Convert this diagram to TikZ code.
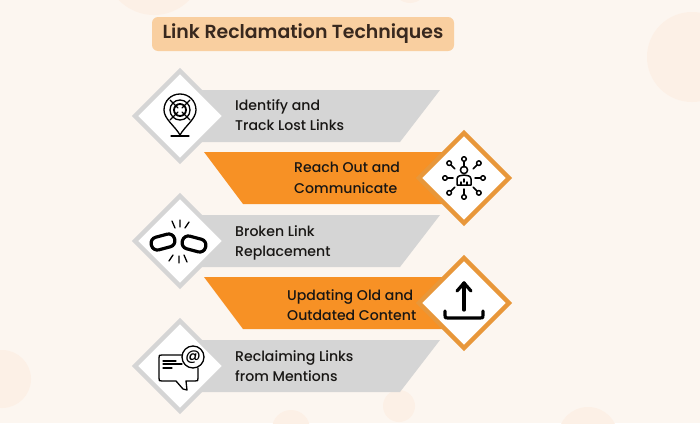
\documentclass[tikz,border=0pt]{standalone}
\usepackage{fontspec}
\setmainfont{Poppins Medium}
\newfontfamily\titlefont{Poppins SemiBold}
\usetikzlibrary{positioning,shapes.geometric}
\definecolor{colorback}   {RGB}{252,246,240}
\definecolor{colorblob}   {RGB}{252,240,230}
\definecolor{colorgrey}   {RGB}{213,213,213}
\definecolor{colorband}   {RGB}{247,145,37}
\definecolor{colorrim}    {RGB}{232,151,58}
\definecolor{colortitle}  {RGB}{249,207,160}
\definecolor{colortext}   {RGB}{24,22,20}
\definecolor{colorhead}   {RGB}{56,40,30}

\begin{document}
\begin{tikzpicture}[
    x=1pt, y=-1pt,
    blob/.style={fill=colorblob,draw=none},
    tile/.style={diamond,aspect=1,fill=white,minimum size=90pt,inner sep=0pt,outer sep=0pt,line width=4.3pt,miter limit=10},
    greytile/.style={tile,draw=colorgrey},
    orangetile/.style={tile,draw=colorrim},
    txt/.style={text=colortext,font={\fontsize{14.1}{20.5}\selectfont},align=left,anchor=west,inner sep=0pt},
    heading/.style={fill=colortitle,text=colorhead,rounded corners=6pt,font={\titlefont\fontsize{18.9}{22}\selectfont},minimum width=302pt,minimum height=34pt,inner sep=0pt},
    icon/.style={line width=1.3pt,draw=black,line cap=round,line join=round},
    iconthick/.style={line width=3.2pt,draw=black,line cap=round,line join=round},
]
    % Background
    \fill[colorback] (0,0) rectangle (700,423);
    \clip (0,0) rectangle (700,423);
    \fill[blob] (154,-34) circle (49);
    \fill[blob] (410,-14) circle (17);
    \fill[blob] (692,57) circle (45);
    \fill[blob] (2,379) circle (29);
    \fill[blob] (399,406) circle (16);
    \fill[blob] (291,429) circle (19);
    \fill[blob] (588,437) circle (30);

    % Title
    \node[heading] (title) at (303,34) {Link Reclamation Techniques};

    % Bands
    \fill[colorgrey] (180,90) -- (440,90) -- (400,142) -- (180,142) -- cycle;
    \fill[colorband] (204,152) -- (464,152) -- (464,204) -- (243,204) -- cycle;
    \fill[colorgrey] (180,215) -- (440,215) -- (400,267) -- (180,267) -- cycle;
    \fill[colorband] (204,277) -- (464,277) -- (464,329) -- (243,329) -- cycle;
    \fill[colorgrey] (180,340) -- (440,340) -- (400,392) -- (180,392) -- cycle;

    % Diamonds
    \node[greytile]   (identify)  at (180,116) {};
    \node[orangetile] (reach)     at (464,178) {};
    \node[greytile]   (broken)    at (180,241) {};
    \node[orangetile] (updating)  at (464,303) {};
    \node[greytile]   (mentions)  at (180,366) {};

    % Text
    \node[txt] (identifytxt) at (235,115) {Identify and\\Track Lost Links};
    \node[txt] (reachtxt)    at (294,178) {Reach Out and\\Communicate};
    \node[txt] (brokentxt)   at (235,243) {Broken Link\\Replacement};
    \node[txt] (updatingtxt) at (287,305) {Updating Old and\\Outdated Content};
    \node[txt] (mentionstxt) at (235,366) {Reclaiming Links\\from Mentions};

    % Pin icon
    \begin{scope}[shift={(identify)},icon]
        \draw (-16,-6) .. controls (-16,-15) and (-9,-22) .. (0,-22)
              .. controls (9,-22) and (16,-15) .. (16,-6)
              .. controls (16,3) and (5,10) .. (0,19)
              .. controls (-5,10) and (-16,3) .. (-16,-6) -- cycle;
        \draw (-9,20) -- (9,20);
        \draw[line width=1.8pt] (0,-6) circle (6);
        \draw (0,-6) circle (10);
        \foreach \ang in {45,135,225,315}
            \draw (\ang:3) ++(0,-6) -- ++(\ang:11);
    \end{scope}

    % Network icon
    \begin{scope}[shift={(reach)},icon,line width=1.5pt]
        \draw (0,-8) circle (3.6);
        \draw (-7,7) -- (-7,1) .. controls (-7,-2) and (-3,-3) .. (0,-3) .. controls (3,-3) and (7,-2) .. (7,1) -- (7,7) -- cycle;
        \draw (-3,7) -- (-3,4) (3,7) -- (3,4) (0,1) -- (0,4);
        \foreach \ang in {0,90,180,270}
            \draw (\ang:11) -- (\ang:17);
        \foreach \ang in {45,135,225,315}
            \draw (\ang:13) -- (\ang:19);
        \foreach \ang in {0,90,180,270}
            \draw[fill=white] (\ang:19) circle (2.3);
        \foreach \ang in {45,135,225,315}
            \draw[fill=white] (\ang:21) circle (2.3);
    \end{scope}

    % Chain icon
    \begin{scope}[shift={(broken)},iconthick]
        \draw[shift={(-17,1)},rotate=15,rounded corners=6pt] (-12,-6.5) rectangle (12,6.5);
        \draw[shift={(14,3)},rotate=-15,rounded corners=6pt] (-12,-6.5) rectangle (12,6.5);
        \draw[line width=1.3pt] (-5,-13) -- (-8,-20) (0,-14) -- (0,-21) (5,-13) -- (9,-19);
        \draw[line width=1.3pt] (-7,14) -- (-11,20) (-1,15) -- (-1,22) (4,14) -- (7,21);
    \end{scope}

    % Upload icon
    \begin{scope}[shift={(updating)},iconthick]
        \draw (0,7) -- (0,-20);
        \draw (-7,-12) -- (0,-20) -- (7,-12);
        \draw (-19,8) -- (-19,12) .. controls (-19,15) .. (-16,15) -- (16,15) .. controls (19,15) .. (19,12) -- (19,8);
    \end{scope}

    % Mention icon
    \begin{scope}[shift={(mentions)},icon]
        \draw (4,-11) -- (-18,-11) .. controls (-21,-11) .. (-21,-8) -- (-21,12)
              .. controls (-21,15) .. (-18,15) -- (-4,15) -- (3,23) -- (7,24) -- (6,15) -- (15,15)
              .. controls (18,15) .. (18,12) -- (18,2);
        \draw (-17,-5) -- (-4,-5) (-17,-2) -- (2,-2) (-17,2) -- (-8,2);
        \node[draw,circle,fill=white,minimum size=22pt,inner sep=0pt,font={\fontsize{15}{15}\selectfont}] (mentionat) at (13,-9) {@};
    \end{scope}
\end{tikzpicture}
\end{document}
